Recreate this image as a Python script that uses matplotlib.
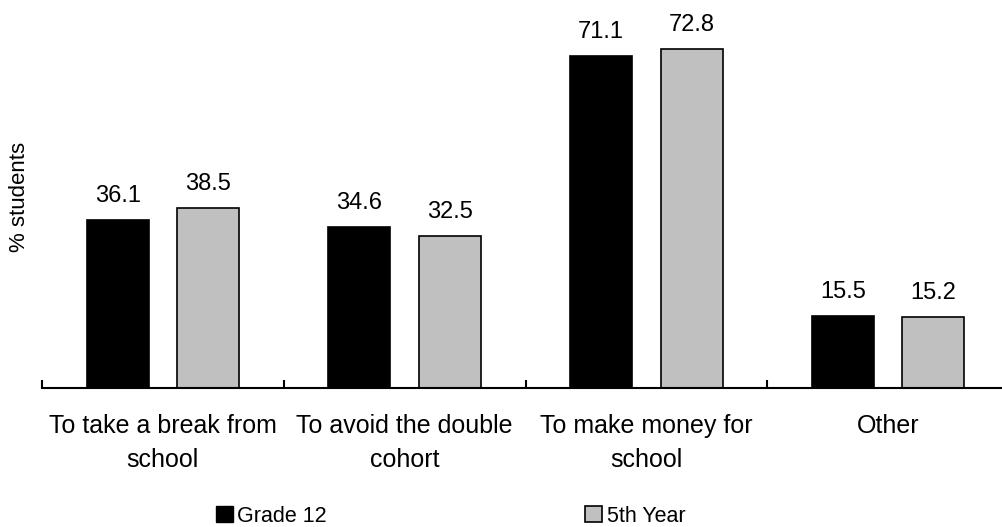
import matplotlib
matplotlib.use("Agg")
import matplotlib.pyplot as plt
from matplotlib.patches import Patch
import numpy as np

plt.rcParams['font.family'] = ['Liberation Sans', 'DejaVu Sans']

categories = ["To take a break from\nschool", "To avoid the double\ncohort",
              "To make money for\nschool", "Other"]
grade12 = [36.1, 34.6, 71.1, 15.5]
fifth_year = [38.5, 32.5, 72.8, 15.2]
series_names = ["Grade 12", "5th Year"]

W, H = 1002, 527
fig = plt.figure(figsize=(W / 100, H / 100), dpi=100)
ax = fig.add_axes([42 / W, (527 - 388) / H, 967 / W, 373 / H])

x = np.arange(len(categories))
width = 0.256
offset = 0.187
b1 = ax.bar(x - offset, grade12, width, color="black", edgecolor="black", linewidth=1.2)
b2 = ax.bar(x + offset, fifth_year, width, color="#C0C0C0", edgecolor="black", linewidth=1.2)

for bars, vals in ((b1, grade12), (b2, fifth_year)):
    for rect, v in zip(bars, vals):
        ax.annotate(f"{v:.1f}", (rect.get_x() + rect.get_width() / 2, v),
                    xytext=(0, 13), textcoords="offset points",
                    ha="center", va="baseline", fontsize=17)

ax.set_xlim(-0.5, len(categories) - 0.5)
ax.set_ylim(0, 80)
ax.set_yticks([])
for s in ("top", "right", "left"):
    ax.spines[s].set_visible(False)
ax.spines["bottom"].set_linewidth(1.5)

# category separators as inward ticks on the baseline
ax.set_xticks(np.arange(len(categories)) - 0.5, minor=True)
ax.tick_params(axis="x", which="minor", direction="in", length=6, width=1.5)
ax.set_xticks(x)
ax.set_xticklabels(categories, fontsize=18, linespacing=1.5)
ax.tick_params(axis="x", which="major", length=0, pad=19)

fig.text(20 / W, 1 - 197 / H, "% students", rotation=90, ha="center", va="center",
         fontsize=16)

handles = [Patch(facecolor="black", edgecolor="black"),
           Patch(facecolor="#C0C0C0", edgecolor="black", linewidth=1.2)]
fig.legend(handles, series_names, loc="center left", bbox_to_anchor=(216 / W, 1 - 516 / H),
           ncol=2, frameon=False, fontsize=15.5, handlelength=0.8, handleheight=0.75,
           handletextpad=0.19, columnspacing=12.0, borderpad=0, borderaxespad=0)

fig.savefig("out.png", dpi=100)
